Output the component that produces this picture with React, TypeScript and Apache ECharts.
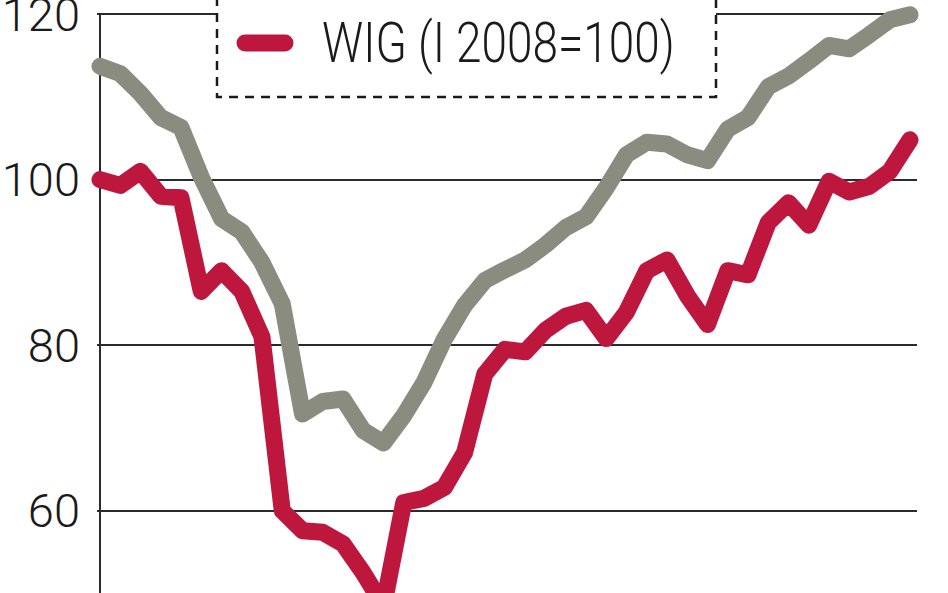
import { useEffect, useRef } from "react";
import * as echarts from "echarts";

const legendLabel = "WIG (I 2008=100)";
const yMin = 40;
const yMax = 120;
const yStep = 20;

// WIG, monthly, January 2008 = 100 (red)
const wigValues = [
  100, 99.3, 101, 98, 97.8, 86.5, 89, 86.5, 81, 60,
  57.6, 57.4, 56, 52.5, 48.5, 61, 61.5, 62.8, 67, 76.5,
  79.5, 79.2, 81.8, 83.5, 84.2, 80.8, 84, 89, 90.3, 86,
  82.5, 89, 88.5, 94.8, 97.2, 94.5, 99.8, 98.5, 99.2, 101,
  104.8,
];

// comparison index (grey)
const greyValues = [
  113.7, 112.8, 110.4, 107.5, 106.3, 100.3, 95.3, 93.7, 90, 85,
  71.7, 73.2, 73.5, 69.7, 68.2, 71.5, 75.5, 80.7, 84.8, 87.8,
  89.1, 90.3, 92.1, 94.2, 95.5, 99, 103, 104.5, 104.3, 103,
  102.3, 106.1, 107.5, 111.2, 112.5, 114.3, 116.2, 115.8, 117.5, 119.3,
  119.9,
];

const FONT = 'Roboto, "DejaVu Sans Condensed", sans-serif';

export default function App() {
  const ref = useRef<HTMLDivElement>(null);

  useEffect(() => {
    document.body.style.margin = "0";
    if (!ref.current) return;
    const chart = echarts.init(ref.current, null, { renderer: "svg" });
    const n = wigValues.length;
    const unitPx = 8.28;
    const gridTop = 14;
    const gridHeight = (yMax - yMin) * unitPx;

    chart.setOption({
      animation: false,
      backgroundColor: "#ffffff",
      grid: {
        left: 97,
        top: gridTop,
        width: 820,
        height: gridHeight,
        containLabel: false,
        outerBoundsMode: "none",
      },
      xAxis: {
        type: "value",
        min: -0.148,
        max: n - 1 + 0.346,
        show: false,
        splitLine: { show: false },
      },
      yAxis: {
        type: "value",
        min: yMin,
        max: yMax,
        interval: yStep,
        axisLine: { show: true, lineStyle: { color: "#2a2a2a", width: 2 } },
        axisTick: { show: false },
        axisLabel: {
          margin: 17,
          color: "#1a1a1a",
          fontFamily: FONT,
          fontWeight: 300,
          fontSize: 47,
          showMinLabel: false,
        },
        splitLine: { show: true, lineStyle: { color: "#2a2a2a", width: 2 } },
      },
      series: [
        {
          name: "grey",
          type: "line",
          data: greyValues.map((v, i) => [i, v]),
          showSymbol: false,
          symbol: "none",
          lineStyle: { color: "#8b8c80", width: 17, cap: "round", join: "round" },
          z: 2,
        },
        {
          name: legendLabel,
          type: "line",
          data: wigValues.map((v, i) => [i, v]),
          showSymbol: false,
          symbol: "none",
          lineStyle: { color: "#be173e", width: 17, cap: "round", join: "round" },
          z: 3,
        },
      ],
      graphic: [
        {
          type: "rect",
          z: 100,
          shape: { x: 217, y: -30, width: 499, height: 127 },
          style: { fill: "#ffffff", stroke: "#1a1a1a", lineWidth: 2.5, lineDash: [9, 7] },
        },
        {
          type: "line",
          z: 101,
          shape: { x1: 245, y1: 43, x2: 285, y2: 43 },
          style: { stroke: "#be173e", lineWidth: 17, lineCap: "round" },
        },
        {
          type: "text",
          z: 101,
          x: 322,
          y: 43,
          scaleX: 0.82,
          style: {
            text: legendLabel,
            fill: "#1a1a1a",
            font: `300 56px ${FONT}`,
            verticalAlign: "middle",
            align: "left",
          },
        },
      ],
    });

    return () => chart.dispose();
  }, []);

  return <div ref={ref} style={{ width: 948, height: 593 }} />;
}
